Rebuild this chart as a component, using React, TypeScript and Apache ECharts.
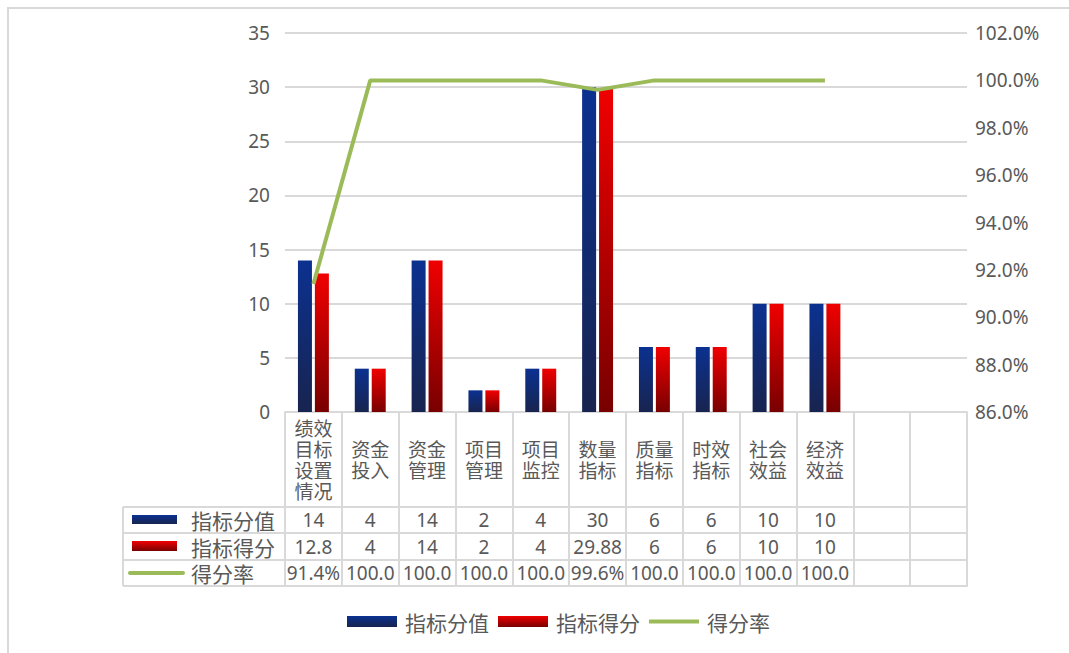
import React, { useEffect, useRef } from "react";
import * as echarts from "echarts";

const categories = [
  "绩效\n目标\n设置\n情况",
  "资金\n投入",
  "资金\n管理",
  "项目\n管理",
  "项目\n监控",
  "数量\n指标",
  "质量\n指标",
  "时效\n指标",
  "社会\n效益",
  "经济\n效益",
  " ",
  "  ",
];
const seriesNames = ["指标分值", "指标得分", "得分率"];
const fullScore = [14, 4, 14, 2, 4, 30, 6, 6, 10, 10];
const gotScore = [12.8, 4, 14, 2, 4, 29.88, 6, 6, 10, 10];
const rate = [91.4, 100, 100, 100, 100, 99.6, 100, 100, 100, 100];
const rateText = ["91.4%", "100.0", "100.0", "100.0", "100.0", "99.6%", "100.0", "100.0", "100.0", "100.0"];

const GREY = "#595959";
const LINE = "#d9d9d9";
const NUM_FONT = "'Noto Sans', 'Noto Sans CJK SC', sans-serif";
const CJK_FONT = "'Noto Sans CJK SC', sans-serif";

const pad = (arr: (string | number)[]) => {
  const out = arr.map((v) => String(v));
  while (out.length < categories.length) out.push(" ".repeat(out.length + 1));
  return out;
};

export default function App() {
  const ref = useRef<HTMLDivElement>(null);
  useEffect(() => {
    document.body.style.margin = "0";
    const chart = echarts.init(ref.current!, undefined, { renderer: "svg" });
    const blue = new echarts.graphic.LinearGradient(0, 0, 0, 1, [
      { offset: 0, color: "#0b3190" },
      { offset: 1, color: "#18244f" },
    ]);
    const red = new echarts.graphic.LinearGradient(0, 0, 0, 1, [
      { offset: 0, color: "#f00000" },
      { offset: 1, color: "#780000" },
    ]);
    const green = "#9bbb59";

    const rowAxis = (data: string[], offset: number, tickLen: number, showLabel = true) => ({
      type: "category",
      data,
      position: "bottom",
      offset,
      boundaryGap: true,
      axisLine: { show: true, lineStyle: { color: LINE, width: 2 } },
      axisTick: { show: tickLen > 0, length: tickLen, interval: 0, lineStyle: { color: LINE, width: 2 } },
      axisLabel: {
        show: showLabel,
        interval: 0,
        margin: tickLen / 2,
        verticalAlign: "middle",
        color: GREY,
        fontSize: 19,
        fontFamily: NUM_FONT,
      },
      splitLine: { show: false },
    });

    const option: any = {
      animation: false,
      backgroundColor: "#ffffff",
      grid: { left: 285, right: 102, top: 33, bottom: 241, containLabel: false },
      legend: {
        left: 342,
        top: 606,
        itemWidth: 50,
        itemHeight: 11,
        itemGap: 9,
        textStyle: { color: GREY, fontSize: 21, fontFamily: CJK_FONT, padding: [0, 0, 0, 3] },
        data: [
          { name: seriesNames[0], icon: "rect" },
          { name: seriesNames[1], icon: "rect" },
          { name: seriesNames[2], icon: "path://M0 0H50V4H0Z", itemStyle: { color: green } },
        ],
      },
      xAxis: [
        {
          type: "category",
          data: categories,
          position: "bottom",
          boundaryGap: true,
          axisLine: { show: true, lineStyle: { color: LINE, width: 2 } },
          axisTick: { show: true, length: 95, interval: 0, lineStyle: { color: LINE, width: 2 } },
          axisLabel: {
            interval: 0,
            margin: 47,
            verticalAlign: "middle",
            lineHeight: 21,
            color: GREY,
            fontSize: 19,
            fontFamily: CJK_FONT,
          },
        },
        rowAxis(pad(fullScore), 95, 26),
        rowAxis(pad(gotScore), 121, 27),
        rowAxis(pad(rateText), 148, 26),
        rowAxis(pad([]), 174, 0, false),
      ],
      yAxis: [
        {
          type: "value",
          min: 0,
          max: 35,
          interval: 5,
          axisLine: { show: false },
          axisTick: { show: false },
          axisLabel: { color: GREY, fontSize: 19, fontFamily: NUM_FONT, margin: 15 },
          splitLine: { show: true, lineStyle: { color: LINE, width: 2 } },
        },
        {
          type: "value",
          min: 86,
          max: 102,
          interval: 2,
          position: "right",
          axisLine: { show: false },
          axisTick: { show: false },
          axisLabel: {
            color: GREY,
            fontSize: 19,
            fontFamily: NUM_FONT,
            margin: 8,
            formatter: (v: number) => v.toFixed(1) + "%",
          },
          splitLine: { show: false },
        },
      ],
      series: [
        {
          name: seriesNames[0],
          type: "bar",
          xAxisIndex: 0,
          yAxisIndex: 0,
          data: fullScore,
          barWidth: 14,
          barGap: "21%",
          itemStyle: { color: blue },
        },
        {
          name: seriesNames[1],
          type: "bar",
          xAxisIndex: 0,
          yAxisIndex: 0,
          data: gotScore,
          barWidth: 14,
          itemStyle: { color: red },
        },
        {
          name: seriesNames[2],
          type: "line",
          xAxisIndex: 0,
          yAxisIndex: 1,
          data: rate,
          symbol: "none",
          showSymbol: false,
          z: 5,
          itemStyle: { color: green },
          lineStyle: { color: green, width: 4 },
        },
      ],
      graphic: [
        {
          type: "rect",
          silent: true,
          shape: { x: 8, y: 8, width: 1080, height: 680 },
          style: { fill: "none", stroke: LINE, lineWidth: 2 },
        },
        // left legend column of the data table
        ...[507, 533, 560, 586].map((y) => ({
          type: "line",
          silent: true,
          shape: { x1: 123, y1: y, x2: 285, y2: y },
          style: { stroke: LINE, lineWidth: 2 },
        })),
        {
          type: "line",
          silent: true,
          shape: { x1: 123, y1: 507, x2: 123, y2: 586 },
          style: { stroke: LINE, lineWidth: 2 },
        },
        {
          type: "rect",
          silent: true,
          shape: { x: 132, y: 515, width: 45, height: 9 },
          style: { fill: blue },
        },
        {
          type: "rect",
          silent: true,
          shape: { x: 132, y: 541, width: 45, height: 10 },
          style: { fill: red },
        },
        {
          type: "line",
          silent: true,
          shape: { x1: 130, y1: 573, x2: 183, y2: 573 },
          style: { stroke: green, lineWidth: 4, lineCap: "round" },
        },
        ...seriesNames.map((n, i) => ({
          type: "text",
          silent: true,
          x: 191,
          y: [520, 546.5, 573][i],
          style: {
            text: n,
            fill: GREY,
            fontSize: 21,
            fontFamily: CJK_FONT,
            verticalAlign: "middle",
            align: "left",
          },
        })),
      ],
    };
    chart.setOption(option);
    return () => chart.dispose();
  }, []);
  return <div ref={ref} style={{ width: 1069, height: 653, overflow: "hidden" }} />;
}
